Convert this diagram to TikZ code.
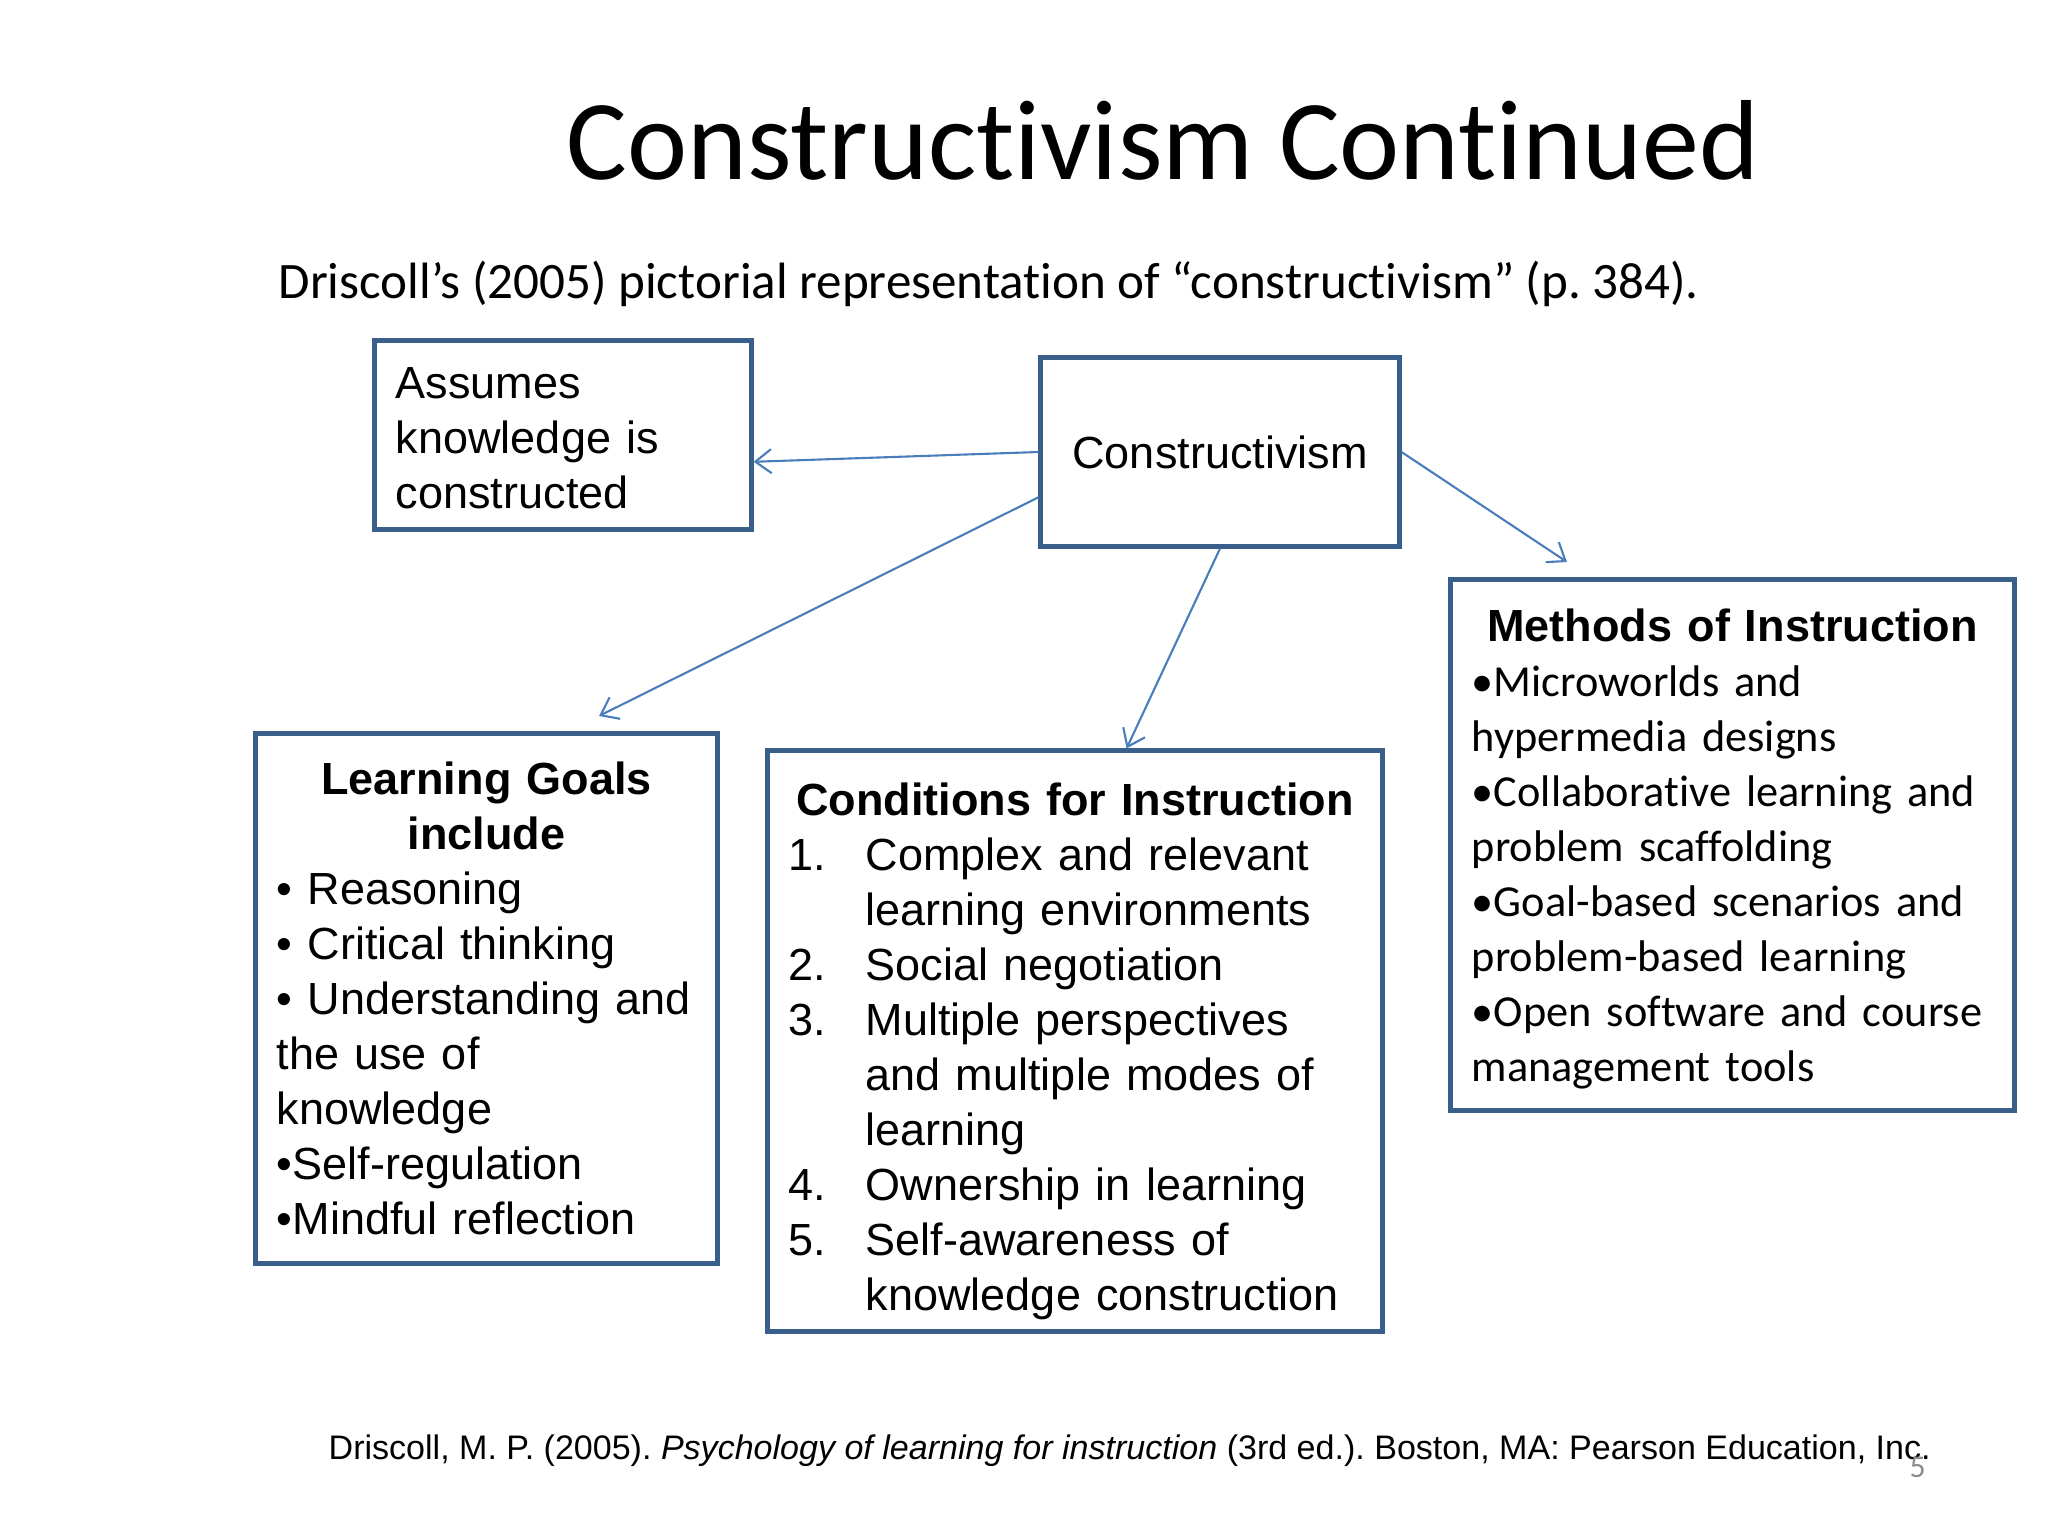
\documentclass[tikz,border=0pt]{standalone}
\usepackage{fontspec}
\setmainfont{Liberation Sans}
\newfontfamily\carlito[Ligatures=NoCommon]{Carlito}
\usetikzlibrary{arrows.meta}
\definecolor{boxblue}{HTML}{3A5F8B}
\definecolor{arrowblue}{HTML}{4A7EBB}
\definecolor{numgray}{HTML}{8C8C8C}
\tikzset{
	conceptbox/.style={draw=boxblue, line width=1.4pt, rectangle, inner xsep=0.21cm, inner ysep=0pt, align=left, font=\fontsize{12.8}{15.65}\selectfont},
	link/.style={arrowblue, line width=0.6pt, -{Straight Barb[length=0.16cm, width=0.24cm]}}
}
\newcommand{\itemgap}{\makebox[0.77cm][l]}
\frenchspacing
\begin{document}
\begin{tikzpicture}[x=0.01cm, y=-0.01cm]
	\useasboundingbox (0,0) rectangle (2048,1536);
	\node [anchor=base west, inner sep=0pt, font=\carlito\fontsize{32.38}{38}\selectfont] (title) at (566,179) {Constructivism Continued};
	\node [anchor=base west, inner sep=0pt, font=\carlito\fontsize{14.53}{17}\selectfont] (sub) at (278,298) {Driscoll’s (2005) pictorial representation of “constructivism” (p. 384).};

	\node [conceptbox, text width=3.34cm, minimum height=1.88cm] (asm) at (563,435) {\rule{0pt}{0.37cm}Assumes\\knowledge is\\constructed};
	\node [conceptbox, align=center, minimum width=3.58cm, minimum height=1.88cm] (con) at (1220,452) {Constructivism};
	\node [conceptbox, text width=4.19cm, minimum height=5.29cm] (lg) at (486.5,998.5) {\makebox[\linewidth]{\bfseries Learning Goals}\\\makebox[\linewidth]{\bfseries include}\\%
		• Reasoning\\• Critical thinking\\• Understanding and\\the use of\\knowledge\\•Self-regulation\\•Mindful reflection};
	\node [conceptbox, text width=5.72cm, minimum height=5.80cm] (cond) at (1075,1041) {\rule{0pt}{0.53cm}\makebox[\linewidth]{\bfseries Conditions for Instruction}\\%
		\itemgap{1.}Complex and relevant\\\itemgap{}learning environments\\\itemgap{2.}Social negotiation\\%
		\itemgap{3.}Multiple perspectives\\\itemgap{}and multiple modes of\\\itemgap{}learning\\%
		\itemgap{4.}Ownership in learning\\\itemgap{5.}Self-awareness of\\\itemgap{}knowledge construction};
	\node [conceptbox, text width=5.21cm, minimum height=5.30cm] (meth) at (1732.5,845) {\rule{0pt}{0.41cm}\makebox[\linewidth]{\bfseries Methods of Instruction}\\\carlito\fontsize{12.6}{15.65}\selectfont%
		•Microworlds and\\hypermedia designs\\•Collaborative learning and\\problem scaffolding\\%
		•Goal-based scenarios and\\problem-based learning\\•Open software and course\\management tools};

	\coordinate (lgtip) at (599,716);
	\coordinate (methtip) at (1567,562);
	\draw [link] (con.west) -- (asm.-8);
	\draw [link] (con.194) -- (lgtip);
	\draw [link] (con.south) -- (cond.80);
	\draw [link] (con.east) -- (methtip);

	\node [anchor=base west, inner sep=0pt, font=\fontsize{9.68}{12}\selectfont] (ref) at (328,1459) {Driscoll, M. P. (2005). \textit{Psychology of learning for instruction} (3rd ed.). Boston, MA: Pearson Education, Inc.};
	\node [anchor=base west, inner sep=0pt, text=numgray, font=\carlito\fontsize{9}{11}\selectfont] (num) at (1909,1477) {5};
\end{tikzpicture}
\end{document}
